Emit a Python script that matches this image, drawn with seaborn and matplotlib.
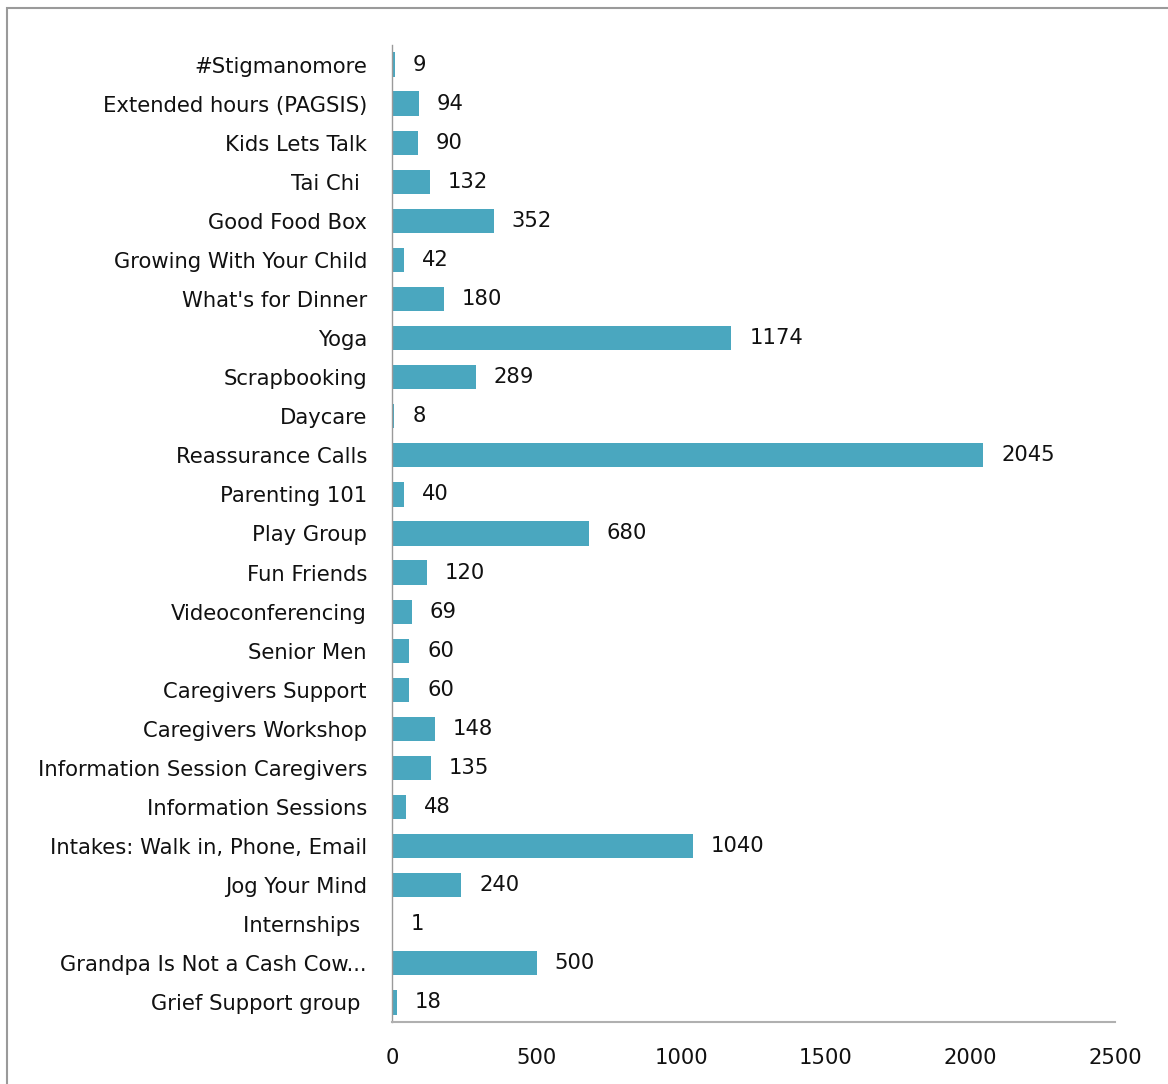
import matplotlib
matplotlib.use("Agg")
import matplotlib.pyplot as plt
import seaborn as sns
import pandas as pd
from matplotlib.patches import Rectangle

categories = ["#Stigmanomore", "Extended hours (PAGSIS)", "Kids Lets Talk", "Tai Chi ",
              "Good Food Box", "Growing With Your Child", "What's for Dinner", "Yoga",
              "Scrapbooking", "Daycare", "Reassurance Calls", "Parenting 101", "Play Group",
              "Fun Friends", "Videoconferencing", "Senior Men", "Caregivers Support",
              "Caregivers Workshop", "Information Session Caregivers", "Information Sessions",
              "Intakes: Walk in, Phone, Email", "Jog Your Mind", "Internships ",
              "Grandpa Is Not a Cash Cow...", "Grief Support group "]
values = [9, 94, 90, 132, 352, 42, 180, 1174, 289, 8, 2045, 40, 680, 120, 69, 60, 60,
          148, 135, 48, 1040, 240, 1, 500, 18]
x_ticks = [0, 500, 1000, 1500, 2000, 2500]

df = pd.DataFrame({"cat": categories, "val": values})

sns.set_theme(style="white")
plt.rcParams['font.family'] = ['DejaVu Sans']

FS = 15.2

fig = plt.figure(figsize=(11.68, 10.84), dpi=100)
ax = fig.add_axes([0.3356, 0.0572, 0.6190, 0.9013])

sns.barplot(data=df, y="cat", x="val", orient="h", color="#4aa7bf", saturation=1,
            width=0.62, ax=ax, edgecolor="none")

ax.set_xlim(0, 2500)
ax.set_xticks(x_ticks)
ax.set_xticklabels([str(t) for t in x_ticks], fontsize=FS, color="#111111")
ax.tick_params(axis="x", length=0, pad=19)
ax.tick_params(axis="y", length=0, pad=18, labelsize=FS, labelcolor="#111111")
ax.set_xlabel("")
ax.set_ylabel("")

for s in ["top", "right"]:
    ax.spines[s].set_visible(False)
ax.spines["left"].set_color("#9a9a9a")
ax.spines["bottom"].set_color("#b0b0b0")
ax.spines["left"].set_linewidth(1.0)
ax.spines["bottom"].set_linewidth(1.5)

for i, v in enumerate(values):
    ax.text(v + 62, i, str(v), va="center", ha="left", fontsize=FS, color="#111111")

fig.patches.append(Rectangle((7 / 1168, -0.1), 1.2, 1.1 - 8 / 1084, transform=fig.transFigure,
                             fill=False, edgecolor="#9a9a9a", linewidth=1.5))

fig.savefig("out.png", dpi=100, facecolor="white")
